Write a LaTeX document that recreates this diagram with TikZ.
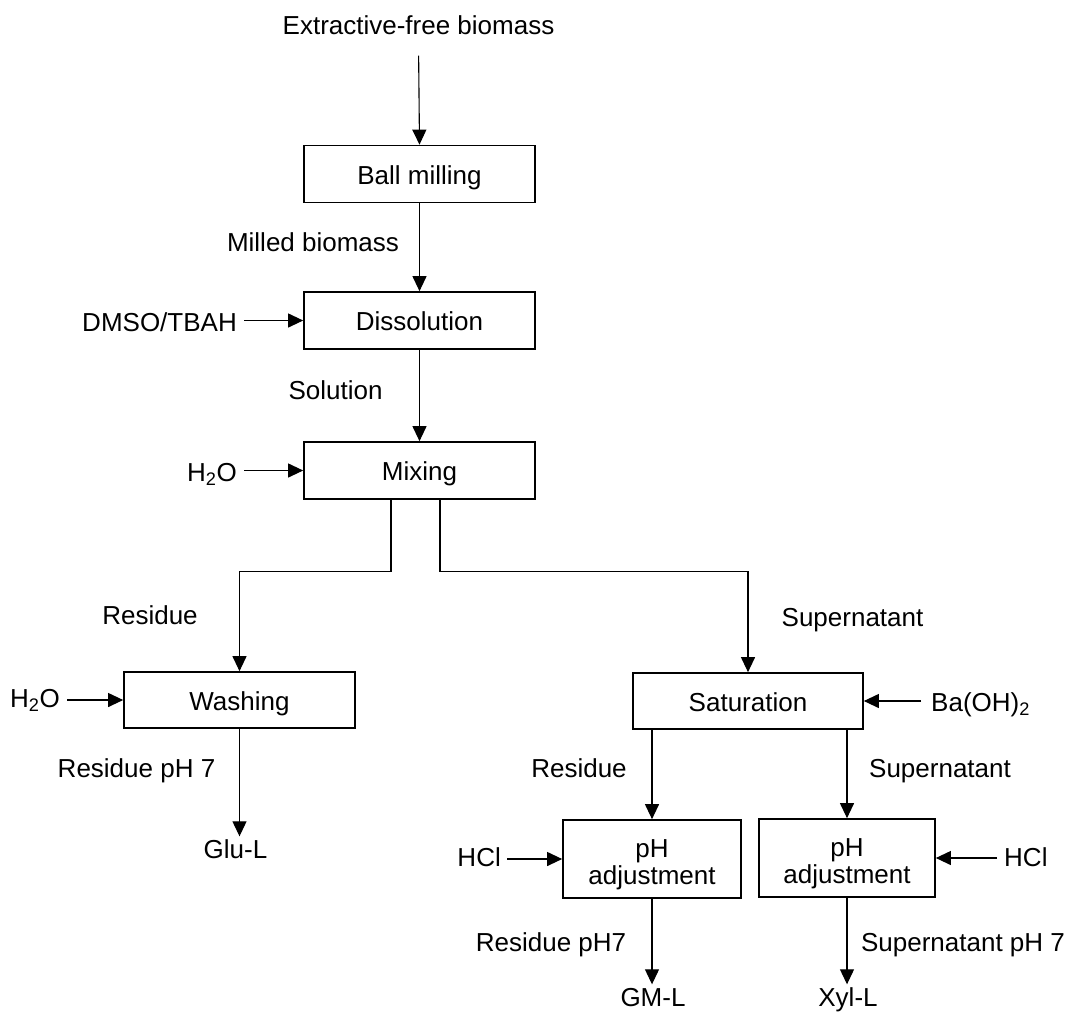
\documentclass[tikz,border=0pt]{standalone}
\usepackage{fontspec}
\setmainfont{Liberation Sans}
\usetikzlibrary{arrows.meta}
\tikzset{
  procbox/.style={draw, line width=1.7pt, minimum width=231pt, minimum height=57pt, inner sep=0pt, align=center, text height=20pt, text depth=0pt, font=\fontsize{26}{27}\selectfont},
  phbox/.style={procbox, text height=51pt, text depth=0pt, minimum height=78pt},
  lbl/.style={inner sep=3pt, text height=19pt, text depth=5pt, font=\fontsize{26}{27}\selectfont},
  endlbl/.style={lbl, inner sep=0pt, anchor=base, text depth=5.5pt},
  flow/.style={line width=1.1pt, -{Triangle[length=15pt,width=14pt]}},
}
\begin{document}
\begin{tikzpicture}[x=1pt,y=-1pt]
\useasboundingbox (0,0) rectangle (1075,1012);
% boxes
\node[procbox] (ball) at (419.5,174) {Ball milling};
\node[procbox] (diss) at (419.5,320.5) {Dissolution};
\node[procbox] (mix) at (419.5,470.5) {Mixing};
\node[procbox, minimum height=56pt] (wash) at (239.5,700) {Washing};
\node[procbox, minimum width=230pt, minimum height=56pt] (sat) at (748,701) {Saturation};
\node[phbox, minimum width=178pt] (ph1) at (652,859) {pH\\adjustment};
\node[phbox, minimum width=176pt] (ph2) at (847,858) {pH\\adjustment};
% labels
\node[lbl] (ext) at (418.5,27.5) {Extractive-free biomass};
\node[lbl] (milled) at (313,244.5) {Milled biomass};
\node[lbl, anchor=east] (dmso) at (240,324.5) {DMSO/TBAH};
\node[lbl] (sol) at (335.5,392.5) {Solution};
\node[lbl, anchor=east] (wat1) at (240,474.5) {H\textsubscript{2}O};
\node[lbl] (res1) at (150,617.5) {Residue};
\node[lbl, anchor=east] (wat2) at (63,700.5) {H\textsubscript{2}O};
\node[lbl] (resph) at (136.5,770.5) {Residue pH 7};
\node[lbl] (glu) at (235.5,851.5) {Glu-L};
\node[lbl] (sup1) at (852.5,619.5) {Supernatant};
\node[lbl, anchor=west] (baoh) at (928,704.5) {Ba(OH)\textsubscript{2}};
\node[lbl] (res2) at (579,770.5) {Residue};
\node[lbl] (sup2) at (940,770.5) {Supernatant};
\node[lbl, anchor=east] (hcl1) at (504,859.5) {HCl};
\node[lbl, anchor=west] (hcl2) at (1001,859.5) {HCl};
\node[lbl] (resph2) at (551,944.5) {Residue pH7};
\node[lbl] (supph) at (963,944.5) {Supernatant pH 7};
\node[endlbl] (gml) at (653,1006.5) {GM-L};
\node[endlbl] (xyl) at (848,1006.5) {Xyl-L};
% connectors
\draw[flow, shorten <=13pt] (ext.south) -- (ball.north);
\draw[flow] (ball.south) -- (diss.north);
\draw[flow] (diss.south) -- (mix.north);
\draw[flow, shorten <=4pt] (diss.west -| dmso.east) -- (diss.west);
\draw[flow, shorten <=4pt] (mix.west -| wat1.east) -- (mix.west);
\draw[flow] ([xshift=-28.5pt]mix.south) -- ++(0,72) -| (wash.north);
\draw[flow] ([xshift=20.5pt]mix.south) -- ++(0,72) -| (sat.north);
\draw[flow, shorten <=4pt] (wash.west -| wat2.east) -- (wash.west);
\draw[flow] (wash.south) -- (wash.south |- glu.north);
\draw[flow, shorten <=7pt] (sat.east -| baoh.west) -- (sat.east);
\draw[flow] (sat.south -| ph1.north) -- (ph1.north);
\draw[flow] (sat.south -| ph2.north) -- (ph2.north);
\draw[flow, shorten <=3pt] (ph1.west -| hcl1.east) -- (ph1.west);
\draw[flow, shorten <=4pt] (ph2.east -| hcl2.west) -- (ph2.east);
\draw[flow, shorten >=3pt] (ph1.south) -- (ph1.south |- gml.north);
\draw[flow, shorten >=3pt] (ph2.south) -- (ph2.south |- xyl.north);
\end{tikzpicture}
\end{document}
